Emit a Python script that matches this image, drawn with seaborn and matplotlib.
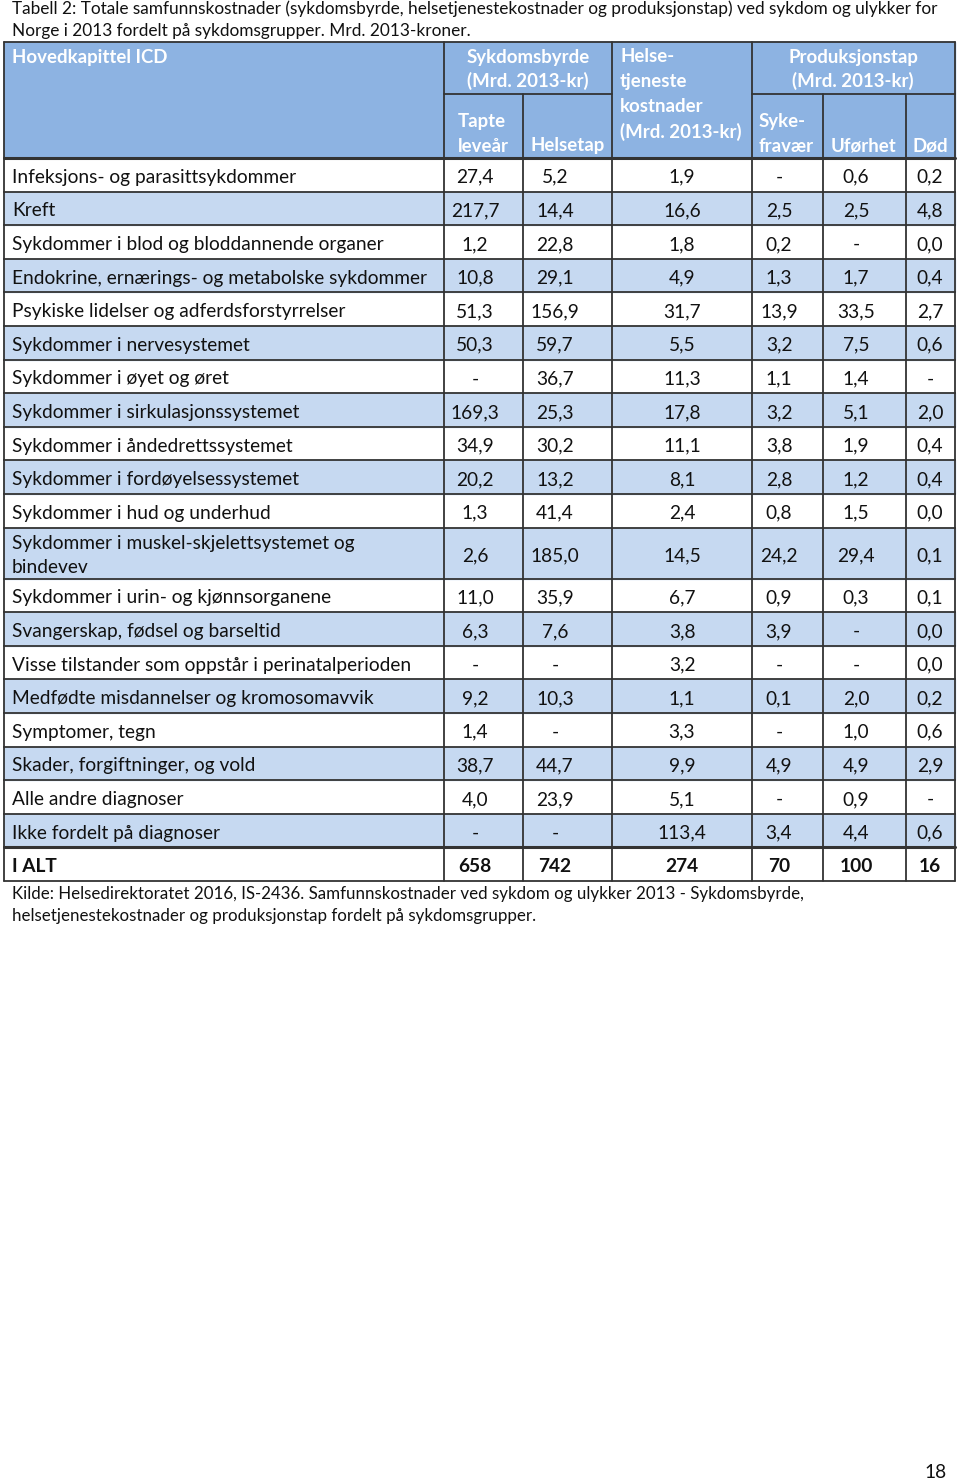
import matplotlib
matplotlib.use("Agg")
import matplotlib.pyplot as plt
import seaborn as sns
from matplotlib.patches import Rectangle

# Table data (Mrd. 2013-kr), None = "-"
labels = [
    "Infeksjons- og parasittsykdommer",
    "Kreft",
    "Sykdommer i blod og bloddannende organer",
    "Endokrine, ernærings- og metabolske sykdommer",
    "Psykiske lidelser og adferdsforstyrrelser",
    "Sykdommer i nervesystemet",
    "Sykdommer i øyet og øret",
    "Sykdommer i sirkulasjonssystemet",
    "Sykdommer i åndedrettssystemet",
    "Sykdommer i fordøyelsessystemet",
    "Sykdommer i hud og underhud",
    "Sykdommer i muskel-skjelettsystemet og\nbindevev",
    "Sykdommer i urin- og kjønnsorganene",
    "Svangerskap, fødsel og barseltid",
    "Visse tilstander som oppstår i perinatalperioden",
    "Medfødte misdannelser og kromosomavvik",
    "Symptomer, tegn",
    "Skader, forgiftninger, og vold",
    "Alle andre diagnoser",
    "Ikke fordelt på diagnoser",
]
tapte_levear = [27.4, 217.7, 1.2, 10.8, 51.3, 50.3, None, 169.3, 34.9, 20.2,
                1.3, 2.6, 11.0, 6.3, None, 9.2, 1.4, 38.7, 4.0, None]
helsetap = [5.2, 14.4, 22.8, 29.1, 156.9, 59.7, 36.7, 25.3, 30.2, 13.2,
            41.4, 185.0, 35.9, 7.6, None, 10.3, None, 44.7, 23.9, None]
helsetjeneste = [1.9, 16.6, 1.8, 4.9, 31.7, 5.5, 11.3, 17.8, 11.1, 8.1,
                 2.4, 14.5, 6.7, 3.8, 3.2, 1.1, 3.3, 9.9, 5.1, 113.4]
sykefravaer = [None, 2.5, 0.2, 1.3, 13.9, 3.2, 1.1, 3.2, 3.8, 2.8,
               0.8, 24.2, 0.9, 3.9, None, 0.1, None, 4.9, None, 3.4]
uforhet = [0.6, 2.5, None, 1.7, 33.5, 7.5, 1.4, 5.1, 1.9, 1.2,
           1.5, 29.4, 0.3, None, None, 2.0, 1.0, 4.9, 0.9, 4.4]
dod = [0.2, 4.8, 0.0, 0.4, 2.7, 0.6, None, 2.0, 0.4, 0.4,
       0.0, 0.1, 0.1, 0.0, 0.0, 0.2, 0.6, 2.9, None, 0.6]
total_label = "I ALT"
totals = [658, 742, 274, 70, 100, 16]

title_lines = [
    "Tabell 2: Totale samfunnskostnader (sykdomsbyrde, helsetjenestekostnader og produksjonstap) ved sykdom og ulykker for",
    "Norge i 2013 fordelt på sykdomsgrupper. Mrd. 2013-kroner.",
]
source_lines = [
    "Kilde: Helsedirektoratet 2016, IS-2436. Samfunnskostnader ved sykdom og ulykker 2013 - Sykdomsbyrde,",
    "helsetjenestekostnader og produksjonstap fordelt på sykdomsgrupper.",
]

sns.set_theme(style="white")
plt.rcParams["font.family"] = ["Lato", "DejaVu Sans"]

HEAD = "#8DB3E2"
STRIPE = "#C6D9F1"
LINE = "#333333"
INK = "#111111"

fig = plt.figure(figsize=(9.6, 14.82), dpi=100)
ax = fig.add_axes([0, 0, 1, 1])
ax.set_xlim(0, 960)
ax.set_ylim(1482, 0)
ax.axis("off")
renderer = fig.canvas.get_renderer()


def fit_size(s, width, weight="normal"):
    t = ax.text(0, 0, s, fontsize=10, fontweight=weight)
    w = t.get_window_extent(renderer).width
    t.remove()
    return 10 * width / w


body_fs = fit_size("Endokrine, ernærings- og metabolske sykdommer", 416)
head_fs = fit_size("Hovedkapittel ICD", 155, "bold")
title_fs = fit_size(title_lines[0], 926)
src_fs = fit_size(source_lines[0], 793)

# column edges (px)
edges = [4, 444, 523, 612, 752, 823, 906, 955]
val_x = [475, 555, 682, 779, 856, 930]
head_top, head_bot = 42, 158
row_h = 33.6
line_gap = 24
heights = [row_h * (1.52 if "\n" in l else 1) for l in labels] + [row_h]

# title
for k, s in enumerate(title_lines):
    ax.text(12, 9 + 22 * k, s, fontsize=title_fs, va="center", ha="left",
            color=INK)

# header block
ax.add_patch(Rectangle((edges[0], head_top), edges[-1] - edges[0],
                       head_bot - head_top, color=HEAD, zorder=0))
hk = dict(fontsize=head_fs, fontweight="bold", color="white", va="center")
ax.text(12, 57, "Hovedkapittel ICD", ha="left", **hk)
ax.text(528, 57, "Sykdomsbyrde", ha="center", **hk)
ax.text(528, 81, "(Mrd. 2013-kr)", ha="center", **hk)
ax.text(620, 57, "Helse-", ha="left", **hk)
ax.text(620, 82, "tjeneste", ha="left", **hk)
ax.text(620, 107, "kostnader", ha="left", **hk)
ax.text(620, 132, "(Mrd. 2013-kr)", ha="left", **hk)
ax.text(853, 57, "Produksjonstap", ha="center", **hk)
ax.text(853, 81, "(Mrd. 2013-kr)", ha="center", **hk)
ax.text(458, 121, "Tapte", ha="left", **hk)
ax.text(458, 146, "leveår", ha="left", **hk)
ax.text(530, 146, "Helsetap", ha="left", **hk)
ax.text(759, 121, "Syke-", ha="left", **hk)
ax.text(759, 146, "fravær", ha="left", **hk)
ax.text(831, 146, "Uførhet", ha="left", **hk)
ax.text(913, 146, "Død", ha="left", **hk)

lw = 1.3
# header lines
ax.plot([edges[1], edges[3]], [94, 94], color=LINE, lw=lw)
ax.plot([edges[4], edges[7]], [94, 94], color=LINE, lw=lw)
for x in (edges[2], edges[5], edges[6]):
    ax.plot([x, x], [94, head_bot], color=LINE, lw=lw)
for x in (edges[0], edges[1], edges[3], edges[4], edges[7]):
    ax.plot([x, x], [head_top, head_bot], color=LINE, lw=lw)
ax.plot([edges[0], edges[7]], [head_top, head_top], color=LINE, lw=lw)


def fmt(v):
    return "-" if v is None else f"{v:.1f}".replace(".", ",")


columns = [tapte_levear, helsetap, helsetjeneste, sykefravaer, uforhet, dod]
y = head_bot
for i, lab in enumerate(labels + [total_label]):
    h = heights[i]
    if i % 2 == 1:
        ax.add_patch(Rectangle((edges[0], y), edges[-1] - edges[0], h,
                               color=STRIPE, zorder=0))
    yc = y + h / 2 + 2.5
    is_total = i == len(labels)
    wt = "bold" if is_total else "normal"
    parts = lab.split("\n")
    y0 = yc - line_gap * (len(parts) - 1) / 2
    for k, p in enumerate(parts):
        ax.text(12, y0 + line_gap * k, p, fontsize=body_fs, fontweight=wt,
                va="center", ha="left", color=INK)
    for c, x in enumerate(val_x):
        s = str(totals[c]) if is_total else fmt(columns[c][i])
        ax.text(x, yc, s, fontsize=body_fs, fontweight=wt, va="center",
                ha="center", color=INK)
    ax.plot([edges[0], edges[7]], [y, y], color=LINE,
            lw=2.2 if i in (0, len(labels)) else lw)
    for x in edges:
        ax.plot([x, x], [y, y + h], color=LINE, lw=lw)
    y += h
ax.plot([edges[0], edges[7]], [y, y], color=LINE, lw=lw)

# source note
for k, s in enumerate(source_lines):
    ax.text(12, y + 13 + 22 * k, s, fontsize=src_fs, va="center", ha="left",
            color=INK)

# page number
ax.text(936, 1472, "18", fontsize=body_fs, ha="center", va="center",
        color=INK)

fig.savefig("out.png", dpi=100)
